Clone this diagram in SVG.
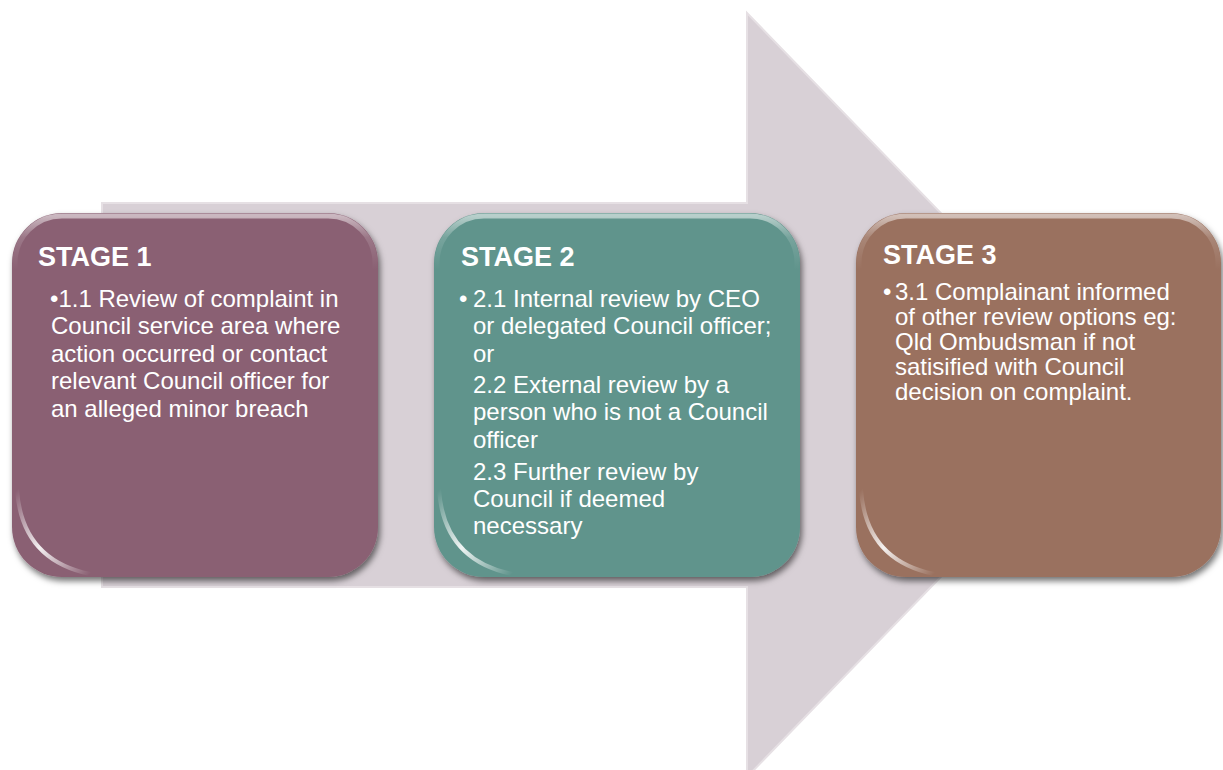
<svg xmlns="http://www.w3.org/2000/svg" width="1223" height="770" viewBox="0 0 1223 770">
<defs>
<filter id="sh" x="-10%" y="-10%" width="125%" height="125%">
<feDropShadow dx="2" dy="4" stdDeviation="3" flood-color="#000" flood-opacity="0.55"/>
</filter>
<linearGradient id="topHi" x1="0" y1="0" x2="0" y2="1">
<stop offset="0" stop-color="#fff" stop-opacity="0.55"/>
<stop offset="0.06" stop-color="#fff" stop-opacity="0.15"/>
<stop offset="0.15" stop-color="#fff" stop-opacity="0"/>
<stop offset="1" stop-color="#fff" stop-opacity="0"/>
</linearGradient>
<linearGradient id="glare" x1="0" y1="0" x2="1" y2="1">
<stop offset="0" stop-color="#fff" stop-opacity="0"/>
<stop offset="0.5" stop-color="#fff" stop-opacity="0.9"/>
<stop offset="1" stop-color="#fff" stop-opacity="0"/>
</linearGradient>
</defs>
<style>
.box{filter:url(#sh);}
.hi{fill:none;stroke:url(#topHi);stroke-width:5;}
.gl{fill:none;stroke:url(#glare);stroke-width:4;stroke-linecap:round;}
.t{font-family:"Liberation Sans",Arial,sans-serif;fill:#fff;}
.h{font-size:27px;font-weight:bold;}
.b{font-size:24px;}
</style>
<g id="arrow">
<polygon points="102,203 747,203 747,13 1117,395 747,777 747,587 102,587" fill="#d8d0d6" stroke="#e6e0e4" stroke-width="2"/>
</g>
<g id="stage1">
<rect class="box" x="12" y="213" width="366" height="364" rx="50" fill="#8a6073"/>
<rect class="hi" x="15" y="216" width="360" height="358" rx="47"/>
<path class="gl" d="M17,490 Q22,560 90,574"/>
<text class="t h" x="38" y="266">STAGE 1</text>
<text class="t b" x="50" y="307">•1.1 Review of complaint in</text>
<text class="t b" x="51" y="334">Council service area where</text>
<text class="t b" x="51" y="362">action occurred or contact</text>
<text class="t b" x="51" y="389">relevant Council officer for</text>
<text class="t b" x="51" y="417">an alleged minor breach</text>
</g>
<g id="stage2">
<rect class="box" x="434" y="213" width="366" height="364" rx="50" fill="#60948c"/>
<rect class="hi" x="437" y="216" width="360" height="358" rx="47"/>
<path class="gl" d="M439,490 Q444,560 512,574"/>
<text class="t h" x="461" y="266">STAGE 2</text>
<text class="t b" x="459" y="307">•</text>
<text class="t b" x="473" y="307">2.1 Internal review by CEO</text>
<text class="t b" x="473" y="334">or delegated Council officer;</text>
<text class="t b" x="473" y="362">or</text>
<text class="t b" x="473" y="393">2.2 External review by a</text>
<text class="t b" x="473" y="420">person who is not a Council</text>
<text class="t b" x="473" y="448">officer</text>
<text class="t b" x="473" y="480">2.3 Further review by</text>
<text class="t b" x="473" y="507">Council if deemed</text>
<text class="t b" x="473" y="534">necessary</text>
</g>
<g id="stage3">
<rect class="box" x="856" y="213" width="365" height="364" rx="50" fill="#9a715f"/>
<rect class="hi" x="859" y="216" width="359" height="358" rx="47"/>
<path class="gl" d="M861,490 Q866,560 934,574"/>
<text class="t h" x="883" y="264">STAGE 3</text>
<text class="t b" x="883" y="300">•</text>
<text class="t b" x="895" y="300">3.1 Complainant informed</text>
<text class="t b" x="895" y="325">of other review options eg:</text>
<text class="t b" x="895" y="350">Qld Ombudsman if not</text>
<text class="t b" x="895" y="375">satisified with Council</text>
<text class="t b" x="895" y="400">decision on complaint.</text>
</g>
</svg>
